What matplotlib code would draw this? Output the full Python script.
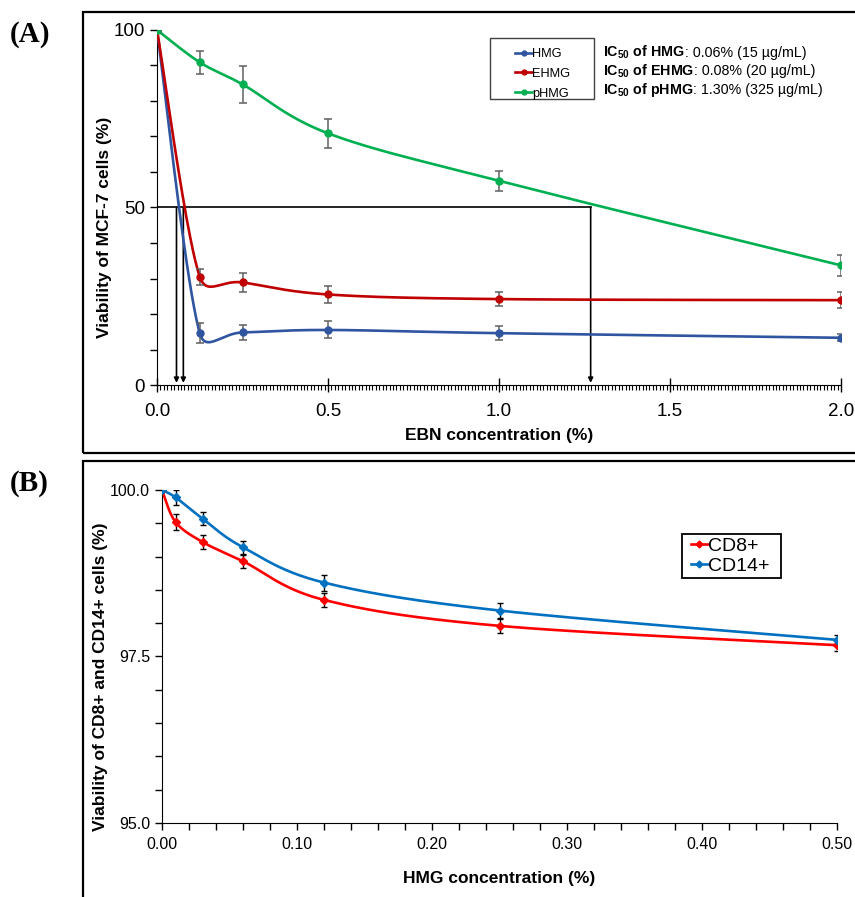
import numpy as np
import matplotlib
matplotlib.use("Agg")
import matplotlib.pyplot as plt
from matplotlib.patches import Rectangle
from matplotlib.lines import Line2D
from matplotlib.ticker import MultipleLocator, FormatStrFormatter

plt.rcParams["font.family"] = ["Liberation Sans", "DejaVu Sans"]
plt.rcParams["mathtext.fontset"] = "custom"
plt.rcParams["mathtext.rm"] = "Liberation Sans"
plt.rcParams["mathtext.bf"] = "Liberation Sans:bold"

# ---- panel A data (MCF-7) ----
ebn_conc = [0.0, 0.125, 0.25, 0.5, 1.0, 2.0]
hmg_viab = [100.0, 14.6, 14.8, 15.5, 14.6, 13.3]
hmg_err = [0.0, 2.8, 2.1, 2.4, 2.0, 1.0]
ehmg_viab = [100.0, 30.5, 28.9, 25.5, 24.2, 23.9]
ehmg_err = [0.0, 2.3, 2.7, 2.3, 2.0, 2.2]
phmg_viab = [100.0, 90.9, 84.7, 70.9, 57.5, 33.7]
phmg_err = [0.0, 3.2, 5.2, 4.0, 2.8, 3.0]
ic50_marks = [0.057, 0.077, 1.268]   # where the arrows are drawn
ic50_labels = ["HMG", "EHMG", "pHMG"]
ic50_values = [": 0.06% (15 µg/mL)", ": 0.08% (20 µg/mL)", ": 1.30% (325 µg/mL)"]

# ---- panel B data (CD8+ / CD14+) ----
hmg_conc = [0.0, 0.01, 0.03, 0.06, 0.12, 0.25, 0.5]
cd8_viab = [100.0, 99.52, 99.22, 98.93, 98.35, 97.96, 97.67]
cd8_err = [0.0, 0.12, 0.11, 0.10, 0.11, 0.10, 0.08]
cd14_viab = [100.0, 99.89, 99.57, 99.14, 98.61, 98.19, 97.75]
cd14_err = [0.0, 0.11, 0.10, 0.10, 0.12, 0.11, 0.08]
cell_labels = ["CD8+", "CD14+"]

W, H = 855, 897
fig = plt.figure(figsize=(W / 100, H / 100), dpi=100)


def fig_box(x0, y0, x1, y1):
    # pixel box (top-left origin) -> figure fraction rect
    return [x0 / W, 1 - y1 / H, (x1 - x0) / W, (y1 - y0) / H]


def frame(x0, y0, x1, y1, lw, color="black"):
    fig.patches.append(Rectangle((x0 / W, 1 - y1 / H), (x1 - x0) / W, (y1 - y0) / H,
                                 transform=fig.transFigure, fill=False,
                                 edgecolor=color, linewidth=lw))


def smooth_line(ax, x, y, n=40):
    # Excel-like smoothed line: bezier through the points in screen space,
    # control arm = 1/6 of neighbour chord, capped at half the segment
    pts = ax.transData.transform(np.column_stack([x, y]))
    out = [pts[0]]
    for i in range(len(pts) - 1):
        p0 = pts[i - 1] if i > 0 else pts[i]
        p1, p2 = pts[i], pts[i + 1]
        p3 = pts[i + 2] if i + 2 < len(pts) else pts[i + 1]
        d12 = np.linalg.norm(p2 - p1)
        v1 = (p2 - p0) / 6.0
        v2 = (p3 - p1) / 6.0
        if np.linalg.norm(v1) > d12 / 2:
            v1 = v1 * (d12 / 2) / np.linalg.norm(v1)
        if np.linalg.norm(v2) > d12 / 2:
            v2 = v2 * (d12 / 2) / np.linalg.norm(v2)
        c1 = p1 + v1
        c2 = p2 - v2
        t = np.linspace(0, 1, n)[1:, None]
        seg = ((1 - t) ** 3) * p1 + 3 * ((1 - t) ** 2) * t * c1 + 3 * (1 - t) * t ** 2 * c2 + t ** 3 * p2
        out.extend(seg)
    out = ax.transData.inverted().transform(np.array(out))
    return out[:, 0], out[:, 1]


# panel frames and letters
frame(83, 12, 870, 453, 1.6)
frame(83, 461, 870, 910, 1.6)
fig.text(10 / W, 1 - 35 / H, "(A)", family="Liberation Serif", weight="bold", fontsize=21, va="center")
fig.text(10 / W, 1 - 483 / H, "(B)", family="Liberation Serif", weight="bold", fontsize=21, va="center")

# ================= panel A =================
axA = fig.add_axes(fig_box(157, 30, 841, 385))
axA.set_xlim(0, 2.0)
axA.set_ylim(0, 100)

series_a = [(hmg_viab, hmg_err, "#2f55a0"),
            (ehmg_viab, ehmg_err, "#c00000"),
            (phmg_viab, phmg_err, "#00b050")]

axA.plot([0, ic50_marks[-1]], [50, 50], color="black", lw=1.2, zorder=2)
for xm in ic50_marks:
    axA.annotate("", xy=(xm, 0.6), xytext=(xm, 50),
                 arrowprops=dict(arrowstyle="-|>", color="black", lw=1.2,
                                 mutation_scale=7, shrinkA=0, shrinkB=0), zorder=2)

handles = []
for vals, err, col in series_a:
    sx, sy = smooth_line(axA, ebn_conc, vals)
    axA.plot(sx, sy, color=col, lw=1.9, zorder=3)
    axA.errorbar(ebn_conc, vals, yerr=err, fmt="none", ecolor="#606060",
                 elinewidth=1.1, capsize=3, capthick=1.1, zorder=4)
    axA.plot(ebn_conc, vals, "o", color=col, ms=5, zorder=5)
    handles.append(Line2D([], [], color=col, lw=1.9, marker="o", ms=3.5))

axA.spines["top"].set_visible(False)
axA.spines["right"].set_visible(False)
axA.xaxis.set_major_locator(MultipleLocator(0.5))
axA.xaxis.set_minor_locator(MultipleLocator(0.01))
axA.xaxis.set_major_formatter(FormatStrFormatter("%.1f"))
axA.yaxis.set_major_locator(MultipleLocator(50))
axA.yaxis.set_minor_locator(MultipleLocator(10))
axA.tick_params(axis="x", which="major", direction="inout", length=10, width=1, labelsize=13.5, pad=8)
axA.tick_params(axis="x", which="minor", direction="out", length=3.5, width=0.8)
axA.tick_params(axis="y", which="both", direction="out", length=5, width=1, labelsize=13.5)
axA.set_xlabel("EBN concentration (%)", fontsize=12.5, weight="bold", labelpad=6)
axA.set_ylabel("Viability of MCF-7 cells (%)", fontsize=12.5, weight="bold")
axA.yaxis.set_label_coords(-0.066, 0.445)

# legend box of panel A
frame(490, 38, 594, 99, 1.0, "#404040")
fig.legend(handles, ic50_labels, loc="upper left", bbox_to_anchor=(505 / W, 1 - 38 / H),
           frameon=False, fontsize=9.2, handlelength=1.33, handletextpad=0.0,
           labelspacing=0.6, borderpad=0.3)

# IC50 text lines: bold part then regular part
fig.canvas.draw()
renderer = fig.canvas.get_renderer()
for i, (name, val) in enumerate(zip(ic50_labels, ic50_values)):
    yb = 1 - (57 + 18.5 * i) / H
    tb = fig.text(603 / W, yb, r"IC$_{\mathbf{50}}$ of " + name, weight="bold", fontsize=10.3, va="baseline")
    ext = tb.get_window_extent(renderer)
    fig.text(ext.x1 / fig.bbox.width, yb, val, fontsize=10.3, va="baseline")

# ================= panel B =================
axB = fig.add_axes(fig_box(162, 490, 837, 823))
axB.set_xlim(0, 0.5)
axB.set_ylim(95, 100)

series_b = [(cd8_viab, cd8_err, "#ff0000"),
            (cd14_viab, cd14_err, "#0070c0")]
handles_b = []
for vals, err, col in series_b:
    sx, sy = smooth_line(axB, hmg_conc, vals)
    axB.plot(sx, sy, color=col, lw=1.9, zorder=3)
    axB.errorbar(hmg_conc, vals, yerr=err, fmt="none", ecolor="black",
                 elinewidth=1.0, capsize=2.5, capthick=1.0, zorder=4)
    axB.plot(hmg_conc, vals, "D", color=col, ms=4.5, zorder=5)
    handles_b.append(Line2D([], [], color=col, lw=1.9, marker="D", ms=3.5))

axB.spines["top"].set_visible(False)
axB.spines["right"].set_visible(False)
axB.xaxis.set_major_locator(MultipleLocator(0.1))
axB.xaxis.set_minor_locator(MultipleLocator(0.02))
axB.xaxis.set_major_formatter(FormatStrFormatter("%.2f"))
axB.yaxis.set_major_locator(MultipleLocator(2.5))
axB.yaxis.set_minor_locator(MultipleLocator(0.5))
axB.yaxis.set_major_formatter(FormatStrFormatter("%.1f"))
axB.tick_params(axis="both", which="both", direction="out", length=5, width=1, labelsize=11.5)
axB.tick_params(axis="x", which="major", pad=5)
axB.set_xlabel("HMG concentration (%)", fontsize=12.5, weight="bold", labelpad=14)
axB.set_ylabel("Viability of CD8+ and CD14+ cells (%)", fontsize=12.5, weight="bold")
axB.yaxis.set_label_coords(-0.080, 0.438)

# legend box of panel B
frame(682, 534, 781, 578, 1.3)
fig.legend(handles_b, cell_labels, loc="upper left", bbox_to_anchor=(691 / W, 1 - 537 / H),
           frameon=False, fontsize=14, handlelength=0.85, handletextpad=0.0,
           labelspacing=0.15, borderpad=0.0, borderaxespad=0)

fig.savefig("out.png", dpi=100)
